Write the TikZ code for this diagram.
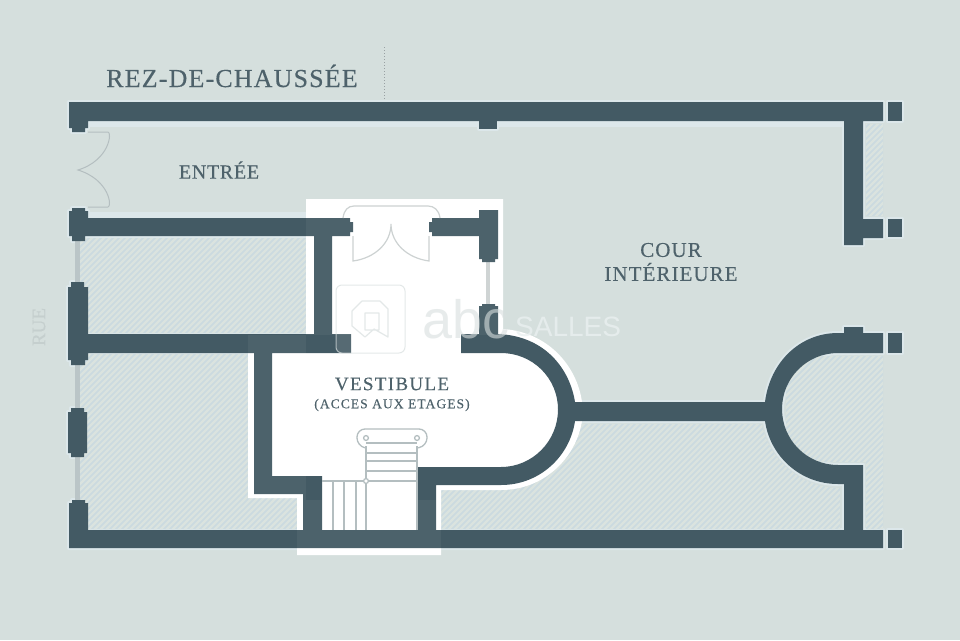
\documentclass[tikz,border=0pt]{standalone}
\usepackage{fontspec}
\setmainfont{Liberation Serif}[FakeBold=0.25]
\newfontfamily\wmfont{Liberation Sans}
\definecolor{bgc}{HTML}{D5DFDD}
\definecolor{wallc}{HTML}{435A64}
\definecolor{haloc}{HTML}{DCE7EA}
\definecolor{hatchbase}{HTML}{CBDAE0}
\definecolor{hatchline}{HTML}{DAE3DF}
\definecolor{thinc}{HTML}{B4BEC0}
\definecolor{glazec}{HTML}{BAC5C7}
\definecolor{doorc}{HTML}{CDD2D2}
\definecolor{textc}{HTML}{4E626B}
\definecolor{wmc}{HTML}{D8DFDF}
\definecolor{wmd}{HTML}{EAF0F0}
\tikzset{
  wallfill/.style={fill=wallc},
  wallhalo/.style={fill=haloc,draw=haloc,line width=4pt,line join=round},
  thinline/.style={draw=thinc,line width=1.2pt},
  glazing/.style={draw=glazec,line width=4.5pt},
  doorline/.style={draw=doorc,line width=1.2pt},
  stairline/.style={draw=thinc,line width=1.3pt},
  label/.style={text=textc,inner sep=0pt,align=center},
}
\newcommand\wallset[1]{%
  \path[#1] (69,102) -- (883,102) -- (883,121) -- (863,121) -- (863,219) -- (883,219) -- (883,238) -- (863,238) -- (863,245) -- (844,245) -- (844,121) -- (88,121) -- (88,128) -- (85,128) -- (85,132) -- (72,132) -- (72,128) -- (69,128) -- cycle;
  \path[#1] (479,121) rectangle (497,129);
  \path[#1] (888,102) rectangle (902,121);
  \path[#1] (888,219) rectangle (902,237);
  \path[#1] (888,333) rectangle (902,353);
  \path[#1] (888,530) rectangle (902,548);
  \path[#1] (72,208) -- (85,208) -- (85,211) -- (88,211) -- (88,218) -- (350,218) -- (350,222) -- (353,222) -- (353,232) -- (350,232) -- (350,236) -- (332,236) -- (332,334) -- (351,334) -- (351,353) -- (272,353) -- (272,476) -- (322,476) -- (322,530) -- (418,530) -- (418,467) -- (501,467) .. controls (532.5,467) and (558,441) .. (558,409.5) .. controls (558,378) and (532.5,353) .. (501,353) -- (461,353) -- (461,334) -- (479,334) -- (479,306) -- (482,306) -- (482,304) -- (495,304) -- (495,306) -- (498,306) -- (498,334) .. controls (546,336) and (570,370) .. (575,402) -- (765,402) .. controls (770,362) and (800,333) .. (838,333) -- (844,333) -- (844,327) -- (863,327) -- (863,333) -- (883,333) -- (883,353) -- (838,353) .. controls (807,353) and (782,378) .. (782,409) .. controls (782,440) and (807,465) .. (838,465) -- (863,465) -- (863,530) -- (883,530) -- (883,548) -- (69,548) -- (69,503) -- (72,503) -- (72,500) -- (85,500) -- (85,503) -- (88,503) -- (88,530) -- (303,530) -- (303,494) -- (254,494) -- (254,353) -- (88,353) -- (88,360) -- (85,360) -- (85,365) -- (71,365) -- (71,360) -- (68,360) -- (68,287) -- (71,287) -- (71,282) -- (84,282) -- (84,287) -- (88,287) -- (88,334) -- (314,334) -- (314,236) -- (88,236) -- (85,236) -- (85,241) -- (72,241) -- (72,236) -- (69,236) -- (69,211) -- (72,211) -- cycle
    (436,530) -- (844,530) -- (844,484) -- (838,484) .. controls (800,484) and (770,456) .. (765,421) -- (575,421) .. controls (570,456) and (540,485) .. (501,485) -- (436,485) -- cycle;
  \path[#1] (429,222) -- (432,222) -- (432,218) -- (479,218) -- (479,210) -- (498,210) -- (498,259) -- (495,259) -- (495,262) -- (482,262) -- (482,259) -- (479,259) -- (479,236) -- (432,236) -- (432,232) -- (429,232) -- cycle;
  \path[#1] (68,412) -- (71,412) -- (71,408) -- (84,408) -- (84,412) -- (87,412) -- (87,453) -- (84,453) -- (84,457) -- (71,457) -- (71,453) -- (68,453) -- cycle;
}
\begin{document}
\begin{tikzpicture}[x=1pt,y=-1pt]
\useasboundingbox (0,0) rectangle (960,640);
\fill[bgc] (0,0) rectangle (960,640);
% pale bands along the walls
\fill[haloc] (88,121) rectangle (844,127);
\fill[haloc] (88,212) rectangle (306,218);
\wallset{wallhalo}
% hatched rooms
\begin{scope}
  \clip (80,238) rectangle (306,333)
        (80,354) -- (248,354) -- (248,498) -- (303,498) -- (303,529) -- (80,529) -- cycle
        (436,489) -- (501,489) .. controls (540,489) and (572,460) .. (578,424) -- (762,424) .. controls (768,458) and (800,488) .. (840,488) -- (840,529) -- (436,529) -- cycle
        (786,356) -- (883,356) -- (883,529) -- (866,529) -- (866,462) -- (786,462) -- cycle
        (866,124) rectangle (883,216);
  \fill[hatchbase] (0,0) rectangle (960,640);
  \foreach \k in {-640,-634,...,960} {
    \draw[hatchline,line width=2.2pt] (\k,640) -- (\k+640,0);
  }
\end{scope}
% white hall
\fill[white] (306,199) -- (503,199) -- (503,329) .. controls (548,332) and (577,366) .. (582,402) -- (582,421) .. controls (576,458) and (544,490) .. (501,490) -- (441,490) -- (441,555) -- (297,555) -- (297,498) -- (248,498) -- (248,353) -- (248,335) -- (306,335) -- cycle;
% glazing
\draw[glazing] (77.5,241) -- (77.5,282);
\draw[glazing] (77.5,365) -- (77.5,408);
\draw[glazing] (77.5,457) -- (77.5,500);
\draw[glazing,draw=doorc] (488,262) -- (488,304);
% walls
\wallset{wallfill}
\fill[white,opacity=.05] (306,199) rectangle (503,335);
\fill[white,opacity=.05] (248,335) rectangle (306,500);
\fill[white,opacity=.05] (297,500) rectangle (441,555);
% entry doors
\draw[thinline,line width=1pt] (88,132) -- (108,132) .. controls (112,132) and (110,160) .. (78,170) .. controls (110,180) and (112,207) .. (108,207) -- (88,207);
% vestibule double door
\draw[doorline] (343,218) .. controls (344,210) and (348,206) .. (354,206) -- (428,206) .. controls (434,206) and (439,210) .. (440,218);
\draw[doorline] (353,236) -- (353,261) .. controls (375,258) and (391,243) .. (391,224) .. controls (391,243) and (407,258) .. (429,261) -- (429,236);
% stairs
\draw[stairline] (366,446) -- (366,530) (417,446) -- (417,530);
\draw[stairline,rounded corners=8pt] (366,448) -- (357,446) -- (357,429) -- (427,429) -- (427,446) -- (417,448);
\foreach \yy in {443,453,461,471} { \draw[stairline] (366,\yy) -- (417,\yy); }
\draw[stairline] (322,481) -- (417,481);
\foreach \xx in {333,344,356} { \draw[stairline] (\xx,481) -- (\xx,530); }
\draw[stairline,fill=white] (366,438) circle[radius=2.4pt];
\draw[stairline,fill=white] (417,438) circle[radius=2.4pt];
\draw[stairline,fill=white] (366,481) circle[radius=2.4pt];
% dotted line
\coordinate (dotA) at (384,47);
\coordinate (dotB) at (384,100);
\draw[draw=thinc!85!black,line width=1pt,dash pattern=on 1pt off 2pt] (dotA) -- (dotB);
% labels
\node[label,font=\fontsize{26}{26}\selectfont\addfontfeature{LetterSpace=4.4}] (title) at (232,76) {REZ-DE-CHAUSSÉE};
\node[label,font=\fontsize{20}{20}\selectfont\addfontfeature{LetterSpace=3.5}] (entree) at (219,170) {ENTRÉE};
\node[label,font=\fontsize{21}{24}\selectfont\addfontfeature{LetterSpace=5}] (cour) at (671,262) {COUR\\INTÉRIEURE};
\node[label,font=\fontsize{19}{19}\selectfont\addfontfeature{LetterSpace=7}] (vest) at (392,384) {VESTIBULE};
\node[label,font=\fontsize{13.5}{14}\selectfont\addfontfeature{LetterSpace=8}] (acces) at (392,405) {(ACCES AUX ETAGES)};
\node[text=hatchline!45!thinc,inner sep=0pt,rotate=90,font=\fontsize{19}{19}\selectfont] (rue) at (39,327) {RUE};
% watermark
\draw[wmc,opacity=.7,line width=1pt,fill=white,fill opacity=.1,rounded corners=6pt] (336,285) rectangle (405,353);
\draw[wmc,opacity=.7,line width=1.2pt,line join=round] (362,301) -- (380,301) -- (388,309) -- (388,337) -- (374,329) -- (365,337) -- (352,326) -- (352,311) -- cycle (365,313) -- (379,313) -- (379,330) -- (365,330) -- cycle;
\node[text=wmc,text opacity=.6,inner sep=0pt,anchor=base west,font=\wmfont\fontsize{54}{54}\selectfont] (wmabc) at (422,338) {abc};
\node[text=wmd,text opacity=.8,inner sep=0pt,anchor=base west,font=\wmfont\fontsize{28}{28}\selectfont] (wmsalles) at (515,336) {SALLES};
\end{tikzpicture}
\end{document}
